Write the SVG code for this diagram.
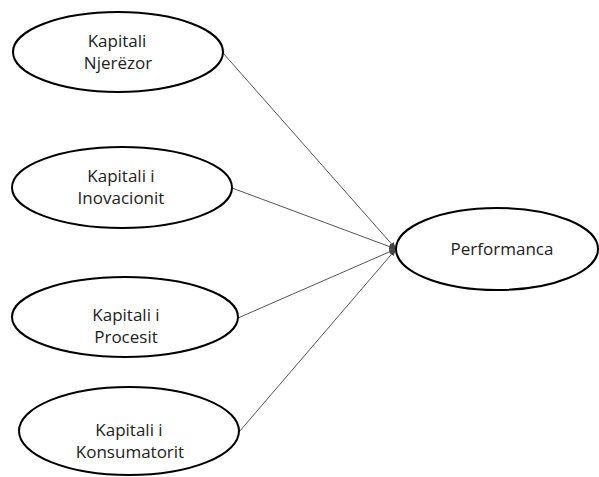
<svg xmlns="http://www.w3.org/2000/svg" width="599" height="477" viewBox="0 0 599 477">
<style>
.node ellipse{fill:#fff;stroke:#000;stroke-width:2}
.node text{font-family:"Open Sans","Liberation Sans",sans-serif;font-size:17px;fill:#222;text-anchor:middle}
.conn line{stroke:#555;stroke-width:1;marker-end:url(#arr)}
</style>
<defs>
<marker id="arr" viewBox="0 0 10 10" refX="10" refY="5" markerWidth="7" markerHeight="7" markerUnits="userSpaceOnUse" orient="auto">
<path d="M0,1 L10,5 L0,9 Z" fill="#444"/>
</marker>
</defs>
<g id="connectors" class="conn">
<line x1="223" y1="53" x2="396" y2="249"/>
<line x1="232" y1="188" x2="396" y2="249"/>
<line x1="238" y1="318" x2="396" y2="249"/>
<line x1="239" y1="432" x2="396" y2="249"/>
</g>
<g id="n1" class="node">
<ellipse cx="118" cy="52" rx="105" ry="40"/>
<text x="117" y="47">Kapitali</text>
<text x="118" y="69">Njerëzor</text>
</g>
<g id="n2" class="node">
<ellipse cx="122" cy="187.5" rx="110" ry="40.5"/>
<text x="121" y="182">Kapitali i</text>
<text x="121" y="204">Inovacionit</text>
</g>
<g id="n3" class="node">
<ellipse cx="125" cy="317" rx="113" ry="40"/>
<text x="126" y="321">Kapitali i</text>
<text x="126" y="343">Procesit</text>
</g>
<g id="n4" class="node">
<ellipse cx="129" cy="431" rx="110" ry="44"/>
<text x="129" y="436">Kapitali i</text>
<text x="130" y="458">Konsumatorit</text>
</g>
<g id="n5" class="node">
<ellipse cx="497" cy="249" rx="101" ry="41"/>
<text x="502" y="255">Performanca</text>
</g>
</svg>
